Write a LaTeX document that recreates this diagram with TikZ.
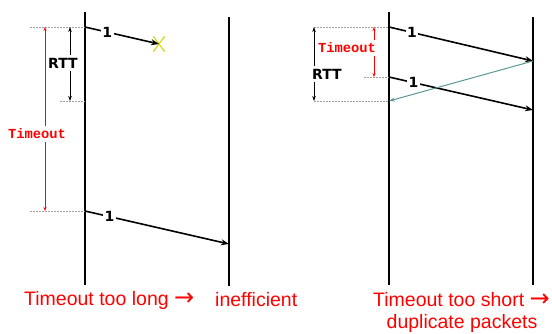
\documentclass[tikz,border=0pt]{standalone}
\usepackage{fontspec}
\setmainfont{Liberation Sans}
\newfontfamily\labfont{DejaVu Sans}
\newfontfamily\codefont{Liberation Mono}
\newfontfamily\symfont{DejaVu Sans}
\usetikzlibrary{arrows.meta,shapes.misc}
\definecolor{alertred}{RGB}{255,0,0}
\definecolor{ackteal}{RGB}{90,150,150}
\definecolor{lossyellow}{RGB}{215,215,20}
\definecolor{guidegray}{RGB}{160,160,160}
\newcommand{\bigarrow}{{\symfont\fontsize{24}{24}\selectfont →}}
\tikzset{
  timeline/.style={line width=2.2pt,black},
  packet/.style={line width=1.6pt,black,-{Stealth[length=8pt,width=6pt]}},
  ackline/.style={line width=1pt,ackteal,-{Stealth[length=6pt,width=4pt]}},
  guide/.style={line width=0.9pt,guidegray,dash pattern=on 2pt off 1pt},
  dimarrow/.style={line width=0.7pt,black,-{Stealth[length=5pt,width=3.5pt]}},
  redarrow/.style={line width=0.7pt,alertred,-{Stealth[length=4pt,width=3pt]}},
  seqlbl/.style={fill=white,inner sep=1.5pt,font=\labfont\bfseries\fontsize{14}{16}\selectfont},
  rttlbl/.style={inner sep=3pt,font=\labfont\bfseries\fontsize{14}{16}\selectfont},
  tolbl/.style={inner sep=3pt,text=alertred,font=\codefont\bfseries\fontsize{13.8}{16}\selectfont},
  caption/.style={inner sep=0pt,text=alertred,font=\fontsize{19.5}{23}\selectfont},
  lossmark/.style={draw=lossyellow,cross out,line width=1.2pt,minimum width=10pt,minimum height=14pt,inner sep=0pt}
}
\begin{document}
\begin{tikzpicture}[x=1pt,y=-1pt]
\useasboundingbox (0,0) rectangle (552,333);

% ---------- left scenario: timeout too long ----------
\coordinate (sndAtop) at (85,12);
\coordinate (sndAbot) at (85,285);
\coordinate (rcvAtop) at (229,17);
\coordinate (rcvAbot) at (229,286);
\draw[timeline] (sndAtop) -- (sndAbot);
\draw[timeline] (rcvAtop) -- (rcvAbot);

\coordinate (sA1) at (85,27);
\coordinate (sA2) at (85,211);
\coordinate (rA2) at (229,244);
\coordinate (gA1) at (30,27);
\coordinate (gA2) at (60,101);
\coordinate (gA2e) at (85,101);
\coordinate (gA3) at (30,211);

\draw[guide] (gA1) -- (sA1);
\draw[guide] (gA2) -- (gA2e);
\draw[guide] (gA3) -- (sA2);

\node[lossmark] (lost) at (159,44) {};
\draw[packet] (sA1) -- node[seqlbl,pos=0.3] (nA1) {1} (lost.center);
\draw[packet] (sA2) -- node[seqlbl,pos=0.17] (nA2) {1} (rA2);

% RTT span
\coordinate (rttAtop) at (70,27);
\coordinate (rttAbot) at (70,101);
\node[rttlbl] (rttA) at (63,63) {RTT};
\draw[dimarrow] (rttA.north -| rttAtop) -- (rttAtop);
\draw[dimarrow] (rttA.south -| rttAbot) -- (rttAbot);

% timeout span
\coordinate (toAtop) at (45,27);
\coordinate (toAbot) at (45,211);
\node[tolbl] (toA) at (37,134) {Timeout};
\draw[redarrow] (toA.north -| toAtop) -- (toAtop);
\draw[redarrow] (toA.south -| toAbot) -- (toAbot);

\node[caption,anchor=west] (capA) at (24,300) {Timeout too long \bigarrow};
\node[caption,anchor=west] (capB) at (215,300) {inefficient};

% ---------- right scenario: timeout too short ----------
\coordinate (sndBtop) at (389,12);
\coordinate (sndBbot) at (389,285);
\coordinate (rcvBtop) at (533,17);
\coordinate (rcvBbot) at (533,285);
\draw[timeline] (sndBtop) -- (sndBbot);
\draw[timeline] (rcvBtop) -- (rcvBbot);

\coordinate (sB1) at (389,27);
\coordinate (rB1) at (533,61);
\coordinate (sB2) at (389,77);
\coordinate (rB2) at (533,110);
\coordinate (ackB) at (389,101);
\coordinate (gB1) at (314,27);
\coordinate (gB2) at (364,77);
\coordinate (gB3) at (314,101);

\draw[guide] (gB1) -- (sB1);
\draw[guide] (gB2) -- (sB2);
\draw[guide] (gB3) -- (ackB);

\draw[packet] (sB1) -- node[seqlbl,pos=0.16] (nB1) {1} (rB1);
\draw[packet] (sB2) -- node[seqlbl,pos=0.17] (nB2) {1} (rB2);
\draw[ackline] (rB1) -- (ackB);

% RTT span
\coordinate (rttBtop) at (314,27);
\coordinate (rttBbot) at (314,101);
\node[rttlbl] (rttB) at (327,74) {RTT};
\draw[dimarrow] (rttB.north -| rttBtop) -- (rttBtop);
\draw[dimarrow] (rttB.south -| rttBbot) -- (rttBbot);

% timeout span
\coordinate (toBtop) at (374,27);
\coordinate (toBbot) at (374,77);
\node[tolbl] (toB) at (347,48) {Timeout};
\draw[redarrow] (toB.north -| toBtop) -- (toBtop);
\draw[redarrow] (toB.south -| toBbot) -- (toBbot);

\node[caption,anchor=west] (capC) at (373,300) {Timeout too short \bigarrow};
\node[caption] (capD) at (462,323) {duplicate packets};
\end{tikzpicture}
\end{document}
